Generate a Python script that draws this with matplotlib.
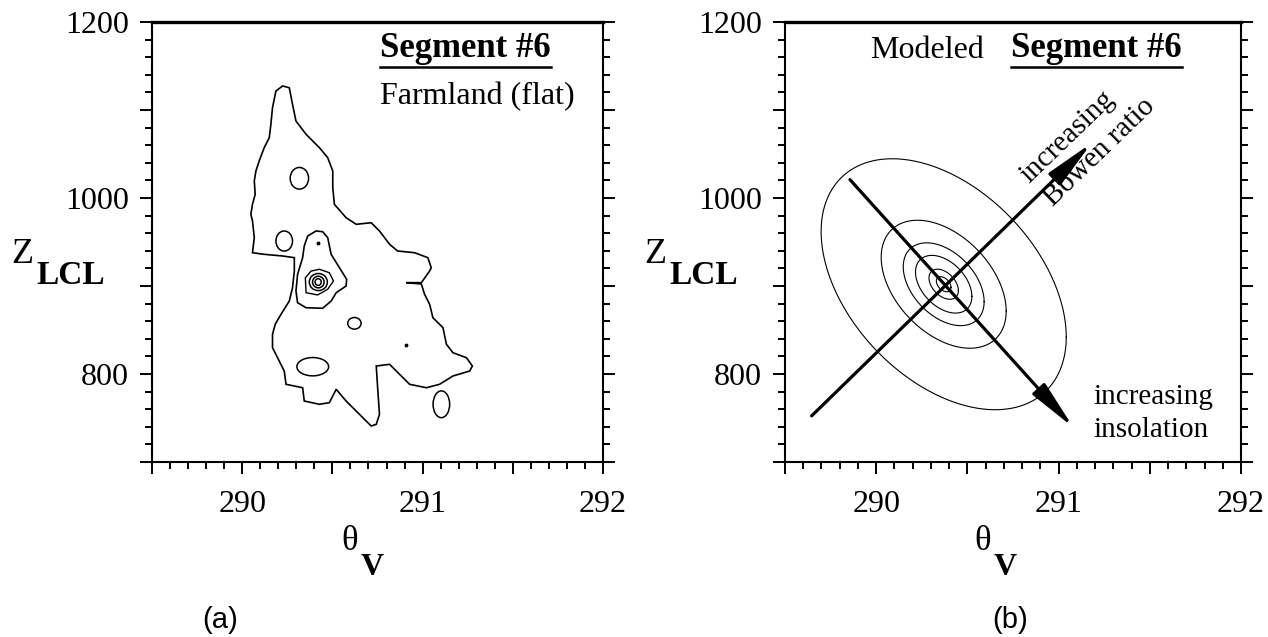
import matplotlib
matplotlib.use("Agg")
import matplotlib.pyplot as plt
import numpy as np
from matplotlib.patches import Ellipse
from matplotlib.ticker import MultipleLocator, FuncFormatter

plt.rcParams["font.family"] = ["Liberation Serif", "DejaVu Serif"]

W, H = 1268, 637

# --- observed joint distribution, segment 6 (theta_v [K], z_lcl [m]) ---
outer_theta = [290.224, 290.261, 290.279, 290.298, 290.354, 290.428, 290.474, 290.502,
               290.502, 290.511, 290.576, 290.632, 290.715, 290.761, 290.817, 290.861,
               290.956, 291.029, 291.048, 291.039, 290.993, 290.909, 290.993, 291.011,
               291.039, 291.057, 291.113, 291.132, 291.168, 291.243, 291.276, 291.261,
               291.168, 291.094, 291.021, 290.928, 290.872, 290.817, 290.743, 290.752,
               290.761, 290.743, 290.715, 290.650, 290.576, 290.521, 290.483, 290.428,
               290.344, 290.335, 290.243, 290.233, 290.196, 290.168, 290.168, 290.183,
               290.215, 290.261, 290.279, 290.289, 290.289, 290.224, 290.122, 290.057,
               290.067, 290.057, 290.048, 290.057, 290.072, 290.067, 290.076, 290.094,
               290.122, 290.150, 290.159, 290.168, 290.187]
outer_z = [1127.3, 1125.3, 1106.5, 1087.5, 1072.4, 1057.2, 1045.8, 1030.7,
           1011.7, 992.8, 977.6, 970.1, 971.9, 962.5, 947.4, 939.8,
           937.8, 932.2, 920.8, 917.0, 903.8, 903.8, 902.3, 890.6,
           879.2, 864.0, 852.6, 833.8, 824.2, 818.5, 809.1, 803.4,
           797.7, 788.3, 784.4, 788.3, 799.7, 811.0, 809.1, 780.7,
           754.2, 742.8, 740.9, 754.2, 769.3, 782.6, 767.4, 765.6,
           769.3, 784.4, 788.3, 803.4, 818.5, 829.9, 845.1, 856.5,
           867.8, 882.9, 898.1, 917.0, 932.2, 934.1, 936.0, 937.8,
           954.9, 973.9, 981.5, 992.8, 1004.2, 1019.3, 1030.7, 1042.0,
           1057.2, 1068.5, 1083.8, 1102.6, 1121.6]

ring2_theta = [290.409, 290.363, 290.344, 290.335, 290.307, 290.298, 290.307, 290.354,
               290.446, 290.493, 290.521, 290.576, 290.579, 290.539, 290.493, 290.474, 290.446]
ring2_z = [962.5, 956.8, 945.5, 932.2, 913.3, 894.3, 881.0, 875.3,
           874.7, 882.9, 892.4, 900.0, 907.6, 920.8, 936.0, 954.9, 961.7]

ring3_theta = [290.382, 290.350, 290.354, 290.418, 290.474, 290.506, 290.483, 290.428]
ring3_z = [917.0, 909.4, 892.4, 889.8, 896.3, 905.7, 915.1, 919.0]

# small closed contours: centre and half extents
island_theta = [290.317, 290.233, 290.622, 290.391, 291.104, 290.422, 290.422, 290.421]
island_z = [1022.4, 951.1, 857.6, 808.3, 765.6, 904.5, 904.5, 904.5]
island_dtheta = [0.051, 0.046, 0.037, 0.088, 0.046, 0.050, 0.032, 0.017]
island_dz = [12.3, 11.4, 6.6, 10.4, 15.2, 9.7, 6.6, 3.8]

spot_theta = [290.422, 290.909]
spot_z = [948.5, 833.0]

# --- modeled distribution ---
model_theta0 = 290.37
model_z0 = 902.0
model_sd_theta = 0.672
model_sd_z = 142.6
model_corr = -0.42
model_levels = [1.0, 0.51, 0.33, 0.23, 0.12, 0.06]

insolation_start = (289.856, 1020.9)
insolation_end = (291.081, 739.3)
bowen_start = (289.646, 752.4)
bowen_end = (291.181, 1062.5)


def fpos(x, y):
    return x / W, 1 - y / H


def style_axes(ax):
    ax.set_xlim(289.5, 292)
    ax.set_ylim(700, 1200)
    ax.xaxis.set_major_locator(MultipleLocator(0.5))
    ax.xaxis.set_minor_locator(MultipleLocator(0.1))
    ax.yaxis.set_major_locator(MultipleLocator(100))
    ax.yaxis.set_minor_locator(MultipleLocator(20))
    ax.xaxis.set_major_formatter(
        FuncFormatter(lambda v, p: f"{v:.0f}" if abs(v - round(v)) < 1e-6 else ""))
    ax.yaxis.set_major_formatter(
        FuncFormatter(lambda v, p: f"{v:.0f}" if round(v) % 200 == 0 else ""))
    ax.tick_params(which="both", direction="out", left=True, right=True,
                   bottom=True, top=False, width=1.4, color="black")
    ax.tick_params(which="major", length=8.5, labelsize=23, pad=8)
    ax.tick_params(axis="x", which="major", pad=12)
    ax.tick_params(which="minor", length=5)
    for side in ["left", "right", "bottom"]:
        ax.spines[side].set_linewidth(1.5)
    ax.spines["top"].set_linewidth(2.4)


def underlined(ax, x, y, text, size):
    t = ax.figure.text(*fpos(x, y), text, fontsize=size, fontweight="bold",
                       ha="left", va="baseline")
    ax.figure.canvas.draw()
    bb = t.get_window_extent()
    ul_y = bb.y0 - 2
    ax.figure.add_artist(plt.Line2D([bb.x0 / W, bb.x1 / W], [ul_y / H, ul_y / H],
                                    color="black", lw=1.8))


def axis_labels(fig, x0):
    fig.text(*fpos(x0 - 141, 263), "Z", fontsize=26, ha="left", va="baseline")
    fig.text(*fpos(x0 - 116, 284), "LCL", fontsize=24, fontweight="bold",
             ha="left", va="baseline")
    fig.text(*fpos(x0 + 189, 550), "\u03b8", fontsize=25, ha="left", va="baseline")
    fig.text(*fpos(x0 + 209, 575), "V", fontsize=23, fontweight="bold",
             ha="left", va="baseline")


fig = plt.figure(figsize=(W / 100, H / 100), dpi=100)
ax1 = fig.add_axes([152 / W, 1 - 462 / H, 451 / W, 440 / H])
ax2 = fig.add_axes([785 / W, 1 - 462 / H, 456 / W, 440 / H])

# (a) observed
ax1.fill(outer_theta, outer_z, fill=False, ec="black", lw=1.2)
ax1.fill(ring2_theta, ring2_z, fill=False, ec="black", lw=1.2)
ax1.fill(ring3_theta, ring3_z, fill=False, ec="black", lw=1.0)
for xc, zc, dx, dz in zip(island_theta, island_z, island_dtheta, island_dz):
    ax1.add_patch(Ellipse((xc, zc), 2 * dx, 2 * dz, fill=False, ec="black", lw=1.1))
ax1.plot(spot_theta, spot_z, "o", color="black", ms=1.8)
style_axes(ax1)

# (b) modeled
t = np.linspace(0, 2 * np.pi, 300)
for k in model_levels:
    ex = model_theta0 + k * model_sd_theta * np.cos(t)
    ez = model_z0 + k * model_sd_z * (model_corr * np.cos(t)
                                      + np.sqrt(1 - model_corr ** 2) * np.sin(t))
    ax2.plot(ex, ez, color="black", lw=0.8)
arrow_kw = dict(arrowstyle="-|>,head_length=3.0,head_width=0.5",
                lw=2.3, color="black", mutation_scale=10, shrinkA=0, shrinkB=0)
ax2.annotate("", xy=insolation_end, xytext=insolation_start, arrowprops=arrow_kw)
ax2.annotate("", xy=bowen_end, xytext=bowen_start, arrowprops=arrow_kw)
style_axes(ax2)

# panel texts
underlined(ax1, 380, 57, "Segment #6", 25)
fig.text(*fpos(380, 104), "Farmland (flat)", fontsize=23, ha="left", va="baseline")
fig.text(*fpos(870, 58), "Modeled", fontsize=23, ha="left", va="baseline")
underlined(ax2, 1011, 57, "Segment #6", 25)
fig.text(*fpos(1068, 137), "increasing", fontsize=21, rotation=44,
         ha="center", va="center", rotation_mode="anchor")
fig.text(*fpos(1100, 152), "Bowen ratio", fontsize=21, rotation=44,
         ha="center", va="center", rotation_mode="anchor")
fig.text(*fpos(1093, 404), "increasing", fontsize=21, ha="left", va="baseline")
fig.text(*fpos(1093, 437), "insolation", fontsize=21, ha="left", va="baseline")

axis_labels(fig, 152)
axis_labels(fig, 785)

fig.text(*fpos(220, 620), "(a)", fontsize=21, family="Liberation Sans",
         ha="center", va="center")
fig.text(*fpos(1010, 620), "(b)", fontsize=21, family="Liberation Sans",
         ha="center", va="center")

fig.savefig("out.png", dpi=100)
